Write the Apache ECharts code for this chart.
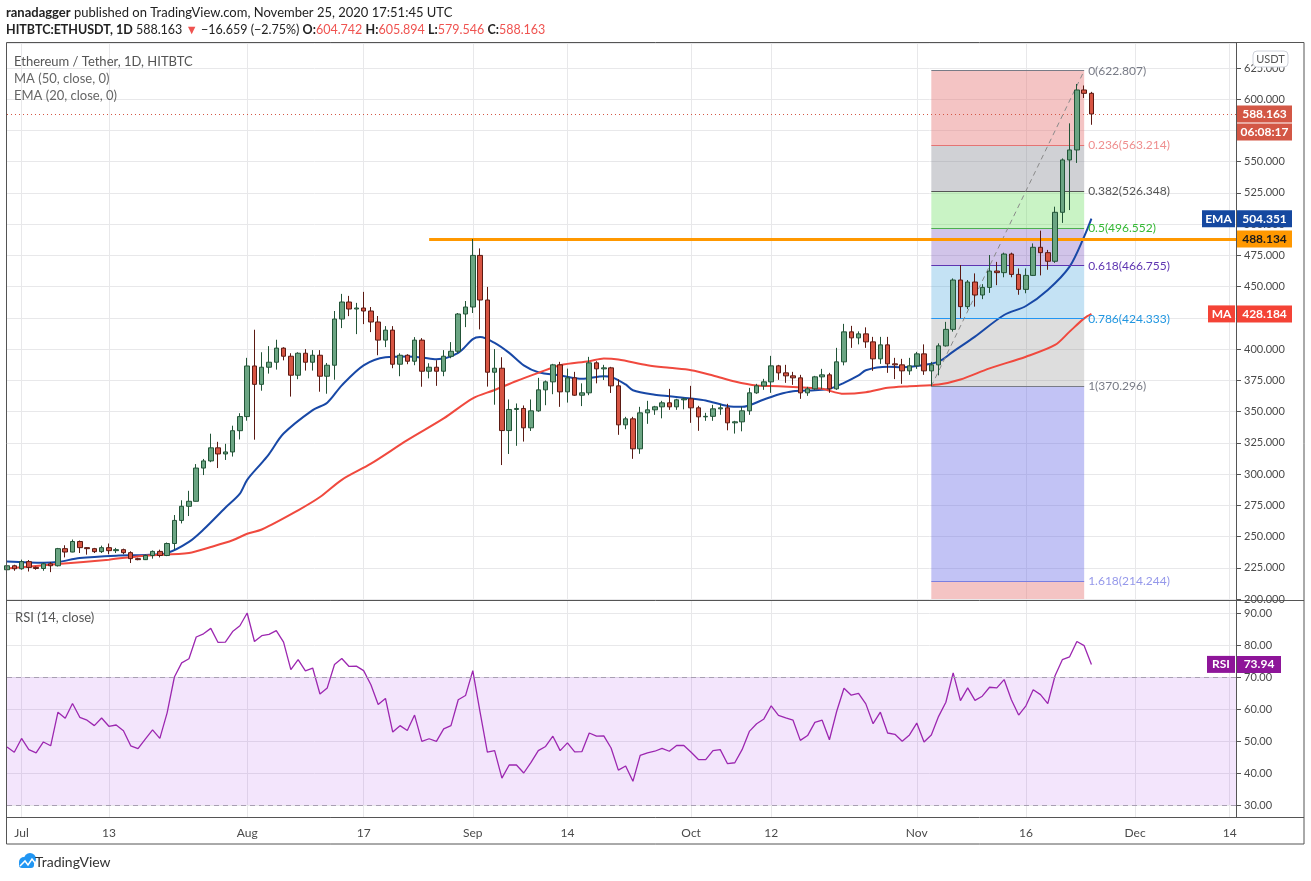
<!DOCTYPE html>
<html>
<head>
<meta charset="utf-8">
<script src="https://cdn.jsdelivr.net/npm/echarts@6/dist/echarts.min.js"></script>
<style>
html, body { margin: 0; padding: 0; background: #fff; }
#chart-container { width: 1311px; height: 881px; }
</style>
</head>
<body>
<div id="chart-container"></div>
<script>
// ETH/USDT daily, 29 Jun - 25 Nov 2020
var FONT = 'Lato, "Noto Sans", sans-serif';

// day categories, 29 Jun 2020 .. 15 Dec 2020
var categories = [];
for (var i = 0; i < 170; i++) {
  categories.push(new Date(Date.UTC(2020, 5, 29 + i)).toISOString().slice(0, 10));
}
var tickDates = ['2020-07-01', '2020-07-13', '2020-08-01', '2020-08-17', '2020-09-01', '2020-09-14',
  '2020-10-01', '2020-10-12', '2020-11-01', '2020-11-16', '2020-12-01', '2020-12-14'];
var tickTexts = ['Jul', '13', 'Aug', '17', 'Sep', '14', 'Oct', '12', 'Nov', '16', 'Dec', '14'];

// [open, high, low, close]
var candles = [
  [223.4, 229.6, 219.9, 226.6], [226.6, 227.4, 222.6, 224.2], [224.2, 231.5, 223.4, 229.9],
  [229.9, 231.2, 222.0, 225.3], [225.3, 226.0, 223.4, 224.4], [224.4, 229.0, 222.6, 228.2],
  [228.2, 229.6, 221.5, 226.6], [226.6, 240.9, 226.0, 240.3], [240.3, 243.0, 233.3, 237.6],
  [237.6, 247.6, 237.4, 246.0], [246.0, 246.8, 236.8, 241.1], [241.1, 241.4, 235.5, 240.3],
  [240.3, 240.9, 236.8, 237.9], [237.9, 242.7, 236.8, 241.1], [241.1, 244.4, 235.8, 238.7],
  [238.7, 240.9, 236.8, 239.5], [239.5, 240.3, 235.8, 237.1], [237.1, 238.2, 228.8, 232.3],
  [232.3, 233.0, 231.0, 231.5], [231.5, 235.6, 231.2, 234.8], [234.8, 238.9, 232.3, 238.1],
  [238.1, 239.5, 233.3, 234.8], [234.8, 245.2, 234.3, 244.4], [244.4, 267.2, 239.5, 262.9],
  [262.9, 279.0, 260.5, 274.2], [274.2, 286.6, 266.4, 278.2], [278.2, 308.0, 278.0, 304.8],
  [304.8, 312.1, 299.2, 310.5], [310.5, 332.3, 309.5, 321.0], [321.0, 325.8, 304.8, 316.1],
  [316.1, 324.2, 311.3, 317.7], [317.7, 338.7, 314.0, 334.7], [334.7, 348.7, 327.7, 346.0],
  [346.0, 393.0, 342.7, 386.5], [386.5, 415.5, 327.5, 371.8], [371.8, 397.5, 366.7, 385.5],
  [385.5, 402.4, 380.4, 389.5], [389.5, 407.5, 383.6, 400.8], [400.8, 401.5, 391.0, 394.3],
  [394.3, 396.7, 362.0, 379.1], [379.1, 397.5, 375.9, 396.7], [396.7, 400.0, 382.8, 389.5],
  [389.5, 399.2, 382.8, 395.1], [395.1, 399.2, 365.9, 378.3], [378.3, 388.9, 364.3, 387.1],
  [387.1, 430.5, 375.5, 424.1], [424.1, 444.2, 416.8, 437.7], [437.7, 442.6, 426.4, 432.1],
  [432.1, 437.0, 412.0, 432.9], [432.9, 445.8, 420.0, 430.5], [430.5, 433.7, 413.6, 421.7],
  [421.7, 426.5, 395.1, 407.2], [407.2, 418.4, 401.6, 415.2], [415.2, 418.4, 384.7, 387.9],
  [387.9, 396.7, 378.3, 395.1], [395.1, 395.9, 387.9, 390.3], [390.3, 409.6, 387.1, 407.2],
  [407.2, 408.8, 369.9, 382.3], [382.3, 388.7, 376.6, 385.5], [385.5, 391.1, 370.6, 382.3],
  [382.3, 399.2, 378.3, 394.3], [394.3, 405.6, 392.7, 398.3], [398.3, 428.9, 396.7, 428.1],
  [428.1, 438.5, 417.6, 433.7], [433.7, 488.1, 428.9, 475.0], [475.0, 480.6, 415.8, 439.3],
  [439.3, 449.8, 370.0, 381.5], [381.5, 400.0, 355.5, 384.7], [384.7, 393.5, 307.2, 334.8],
  [334.8, 359.7, 316.1, 351.7], [351.7, 356.5, 322.6, 352.5], [352.5, 354.9, 326.0, 337.0],
  [337.0, 359.7, 334.5, 350.6], [350.6, 377.0, 349.8, 367.4], [367.4, 374.9, 355.1, 373.8],
  [373.8, 388.2, 363.9, 387.4], [387.4, 389.8, 353.8, 365.8], [365.8, 384.4, 357.2, 377.0],
  [377.0, 381.8, 362.6, 363.1], [363.1, 372.6, 354.4, 365.0], [365.0, 393.8, 363.1, 389.0],
  [389.0, 390.3, 372.6, 384.2], [384.2, 387.4, 375.3, 385.0], [385.0, 385.8, 364.9, 370.6],
  [370.6, 375.8, 331.4, 339.4], [339.4, 345.8, 335.9, 344.2], [344.2, 345.8, 312.2, 320.2],
  [320.2, 353.8, 316.2, 349.0], [349.0, 358.6, 340.2, 351.4], [351.4, 354.6, 347.4, 353.8],
  [353.8, 358.6, 344.6, 357.0], [357.0, 368.2, 351.4, 353.8], [353.8, 360.2, 351.4, 359.4],
  [359.4, 361.0, 351.8, 360.2], [360.2, 370.6, 341.0, 353.0], [353.0, 354.6, 334.6, 345.8],
  [345.8, 349.0, 342.6, 346.2], [346.2, 355.4, 342.6, 352.2], [352.2, 356.2, 347.4, 353.0],
  [353.0, 356.2, 335.0, 341.0], [341.0, 342.6, 332.4, 341.8], [341.8, 353.8, 334.2, 350.6],
  [350.6, 369.0, 347.4, 365.0], [365.0, 372.2, 364.2, 370.6], [370.6, 376.2, 367.4, 373.8],
  [373.8, 394.6, 365.0, 386.6], [386.6, 387.4, 375.4, 381.0], [381.0, 387.4, 373.0, 378.6],
  [378.6, 381.8, 371.4, 377.0], [377.0, 379.4, 360.2, 365.0], [365.0, 369.8, 362.6, 368.2],
  [368.2, 378.6, 367.4, 377.8], [377.8, 384.2, 368.2, 379.4], [379.4, 381.0, 365.0, 368.2],
  [368.2, 401.0, 367.4, 389.8], [389.8, 420.2, 387.0, 413.8], [413.8, 418.6, 401.0, 409.0],
  [409.0, 414.2, 403.8, 412.2], [412.2, 417.4, 401.0, 405.8], [405.8, 409.8, 382.6, 392.2],
  [392.2, 409.8, 388.2, 403.4], [403.4, 409.8, 381.0, 388.2], [388.2, 393.0, 376.0, 387.4],
  [387.4, 392.2, 372.2, 382.6], [382.6, 393.0, 379.4, 386.6], [386.6, 397.8, 384.2, 396.2],
  [396.2, 403.8, 379.4, 382.6], [382.6, 389.8, 370.3, 387.4], [387.4, 404.6, 379.0, 402.6],
  [402.6, 421.8, 402.0, 415.8], [415.8, 456.6, 414.0, 455.3], [455.3, 467.3, 424.7, 434.0],
  [434.0, 455.3, 432.0, 453.7], [453.7, 460.6, 434.0, 443.3], [443.3, 452.0, 440.0, 449.4],
  [449.4, 475.3, 445.0, 462.5], [462.5, 469.8, 451.2, 461.2], [461.2, 477.2, 457.5, 476.1],
  [476.1, 477.2, 457.5, 459.8], [459.8, 464.6, 443.5, 447.8], [447.8, 464.6, 444.7, 459.0],
  [459.0, 484.6, 458.5, 481.5], [481.5, 494.8, 459.0, 477.2], [477.2, 479.4, 463.5, 470.3],
  [470.3, 514.0, 469.0, 509.5], [509.5, 552.6, 501.0, 551.4], [551.4, 580.7, 511.3, 559.4],
  [559.4, 612.2, 549.0, 607.4], [607.4, 611.0, 601.0, 604.7], [604.742, 605.894, 579.546, 588.163]
];

// [day index, value]
var emaPoints = [[0, 230.1], [5, 229.0], [7, 229.6], [10, 232.8], [15, 234.7], [19, 235.2], [22, 236.8],
  [25, 245.7], [27, 255.6], [30, 273.1], [32, 284.4], [33, 295.4], [35, 309.0], [36, 316.0], [38, 332.4],
  [42, 351.2], [44, 357.1], [46, 371.0], [49, 387.0], [52, 393.5], [55, 394.1], [57, 393.3], [59, 391.9],
  [62, 397.0], [64, 408.0], [65, 409.6], [67, 405.0], [69, 397.0], [71, 387.0], [73, 381.5], [76, 378.9],
  [79, 376.2], [82, 378.3], [83, 377.8], [85, 371.7], [86, 367.1], [89, 363.5], [91, 362.3], [94, 360.5],
  [96, 358.9], [99, 354.5], [101, 353.8], [104, 359.7], [106, 363.7], [108, 366.3], [111, 367.1],
  [113, 368.2], [115, 373.0], [117, 378.9], [118, 383.1], [121, 385.8], [123, 385.5], [125, 386.5],
  [128, 390.0], [130, 398.0], [133, 410.0], [137, 427.3], [140, 434.5], [143, 447.3], [146, 466.0],
  [148, 490.0], [149, 504.351]];
var maPoints = [[0, 224.5], [7, 228.0], [14, 231.5], [19, 234.7], [25, 236.8], [28, 241.6], [31, 247.0],
  [33, 252.2], [35, 255.6], [40, 271.0], [43, 281.6], [46, 295.4], [50, 308.3], [55, 327.1], [60, 344.5],
  [64, 360.6], [67, 367.3], [70, 374.5], [73, 381.0], [76, 387.1], [80, 390.3], [82, 392.5], [84, 391.7],
  [88, 387.1], [91, 385.0], [94, 383.1], [97, 378.9], [100, 374.1], [103, 370.9], [106, 370.3],
  [110, 369.0], [112, 368.2], [115, 364.2], [118, 365.5], [121, 369.0], [124, 370.3], [128, 371.7],
  [131, 375.7], [135, 384.6], [140, 393.9], [144, 403.3], [146, 414.0], [148, 424.6], [149, 428.184]];

var rsiValues = [48.1, 46.5, 50.8, 47.3, 46.3, 49.7, 48.5, 59.0, 57.1, 61.7,
  57.4, 56.5, 54.8, 57.2, 54.6, 55.0, 53.2, 48.5, 47.6, 50.6,
  53.5, 50.8, 58.8, 70.0, 74.4, 75.7, 82.5, 83.5, 85.2, 80.8,
  80.9, 84.2, 86.0, 90.0, 81.1, 82.9, 83.3, 84.5, 80.9, 72.3,
  75.4, 71.9, 72.8, 64.7, 66.6, 73.9, 75.8, 73.3, 73.4, 72.0,
  67.6, 61.4, 63.3, 52.8, 54.8, 53.3, 58.1, 49.9, 50.7, 49.9,
  53.8, 54.8, 62.9, 64.2, 72.0, 59.0, 46.5, 47.0, 38.4, 42.5,
  42.5, 40.0, 43.3, 47.0, 48.3, 51.5, 47.0, 49.4, 46.6, 46.7,
  52.5, 51.5, 51.6, 47.8, 40.9, 42.2, 37.4, 45.5, 46.3, 46.8,
  47.7, 46.8, 48.6, 48.6, 46.5, 44.2, 44.2, 47.0, 47.3, 42.9,
  43.2, 47.3, 53.0, 55.4, 56.9, 61.0, 58.0, 57.2, 56.5, 50.2,
  51.7, 55.8, 56.5, 50.4, 59.3, 66.5, 64.3, 64.9, 61.6, 55.4,
  59.0, 52.5, 52.1, 49.9, 51.9, 55.6, 49.7, 51.9, 57.7, 62.1,
  71.3, 62.6, 66.6, 62.7, 64.0, 66.8, 66.6, 69.2, 62.9, 58.1,
  61.0, 66.0, 64.5, 61.7, 70.4, 75.4, 76.3, 81.1, 79.8, 73.94];

// Fibonacci retracement drawn from the 3 Nov low to the 24 Nov high
var fibRatios = ['0', '0.236', '0.382', '0.5', '0.618', '0.786', '1', '1.618'];
var fibPrices = [622.807, 563.214, 526.348, 496.552, 466.755, 424.333, 370.296, 214.244];
var fibStart = '2020-11-03';
var fibEnd = '2020-11-24';
var resistanceStart = '2020-08-26';
var resistance = 488.134;
var lastPrice = 588.163;
var lastEma = 504.351;
var lastMa = 428.184;
var lastRsi = 73.94;

var fibBandColors = ['rgba(229,115,115,0.42)', 'rgba(120,123,134,0.35)', 'rgba(100,220,90,0.35)',
  'rgba(103,58,183,0.30)', 'rgba(60,160,220,0.30)', 'rgba(120,120,120,0.25)',
  'rgba(103,106,230,0.40)', 'rgba(229,115,115,0.42)'];
var fibLineColors = ['#787b86', '#e57373', '#555555', '#4caf50', '#5e35b1', '#2196f3', '#787b86', '#7b7fe0'];
var fibTextColors = ['#787b86', '#ef8e8e', '#555555', '#33b833', '#5e35b1', '#2196e0', '#787b86', '#9598ea'];

var dom = document.getElementById('chart-container');
var myChart = echarts.init(dom, null, { renderer: 'canvas' });

var isTick = function (index, value) {
  return tickDates.indexOf(value) >= 0;
};

var fibStartIdx = categories.indexOf(fibStart);
var fibEndIdx = categories.indexOf(fibEnd);

var fibAreas = [];
var fibLines = [];
for (var k = 0; k < fibPrices.length; k++) {
  var lower = k + 1 < fibPrices.length ? fibPrices[k + 1] : 200;
  fibAreas.push([
    { coord: [fibStartIdx, fibPrices[k]], itemStyle: { color: fibBandColors[k] } },
    { coord: [fibEndIdx, lower] }
  ]);
  fibLines.push([
    {
      coord: [fibStartIdx, fibPrices[k]],
      lineStyle: { color: fibLineColors[k], width: 1, type: 'solid' },
      label: {
        show: true, position: 'end', distance: 4,
        formatter: fibRatios[k] + '(' + fibPrices[k].toFixed(3) + ')',
        color: fibTextColors[k], fontSize: 12, fontFamily: FONT
      }
    },
    { coord: [fibEndIdx, fibPrices[k]] }
  ]);
}
// dashed trend line of the retracement
fibLines.push([
  { coord: [fibStartIdx, fibPrices[6]], lineStyle: { color: '#8a8a8a', width: 1, type: [5, 4] }, label: { show: false } },
  { coord: [fibEndIdx, fibPrices[0]] }
]);

var gridLineColor = '#e8e8ea';

var option = {
  animation: false,
  backgroundColor: '#ffffff',
  textStyle: { fontFamily: FONT },
  grid: [
    { left: 7, right: 74, top: 43, height: 556, outerBoundsMode: 'none' },
    { left: 7, right: 74, top: 613, height: 192, outerBoundsMode: 'none' },
    { left: 7, right: 74, top: 600, height: 217, outerBoundsMode: 'none' }
  ],
  xAxis: [
    {
      type: 'category', gridIndex: 0, data: categories, boundaryGap: false,
      axisLine: { show: false }, axisTick: { show: false }, axisLabel: { show: false },
      splitLine: { show: true, interval: isTick, lineStyle: { color: gridLineColor } }
    },
    {
      type: 'category', gridIndex: 1, data: categories, boundaryGap: false,
      axisLine: { show: false }, axisTick: { show: false }, axisLabel: { show: false },
      splitLine: { show: false }
    },
    {
      type: 'category', gridIndex: 2, data: categories, boundaryGap: false, position: 'bottom',
      axisLine: { show: false }, axisTick: { show: false },
      axisLabel: {
        show: true, interval: isTick, color: '#4a4a4a', fontSize: 12, margin: 10,
        formatter: function (value) {
          var j = tickDates.indexOf(value);
          return j >= 0 ? tickTexts[j] : '';
        }
      },
      splitLine: { show: true, interval: isTick, lineStyle: { color: gridLineColor } }
    }
  ],
  yAxis: [
    {
      type: 'value', gridIndex: 0, position: 'right', min: 200, max: 645.0, interval: 25,
      axisLine: { show: false },
      axisTick: { show: true, length: 4, lineStyle: { color: '#555' } },
      axisLabel: {
        color: '#4a4a4a', fontSize: 11, margin: 7, showMaxLabel: false,
        formatter: function (v) { return (v % 25 === 0 && v <= 625) ? v.toFixed(3) : ''; }
      },
      splitLine: { show: true, lineStyle: { color: gridLineColor } }
    },
    {
      type: 'value', gridIndex: 1, position: 'right', min: 30, max: 90, interval: 10,
      axisLine: { show: false },
      axisTick: { show: true, length: 4, lineStyle: { color: '#555' } },
      axisLabel: { color: '#4a4a4a', fontSize: 11, margin: 7, formatter: function (v) { return v.toFixed(2); } },
      splitLine: { show: true, lineStyle: { color: gridLineColor } }
    },
    { type: 'value', gridIndex: 2, show: false, min: 0, max: 1, splitLine: { show: false } }
  ],
  series: [
    {
      name: 'Fib', type: 'line', xAxisIndex: 0, yAxisIndex: 0, data: [], z: 1,
      markArea: { silent: true, data: fibAreas },
      markLine: { silent: true, symbol: ['none', 'none'], data: fibLines }
    },
    {
      name: 'ETHUSDT', type: 'candlestick', xAxisIndex: 0, yAxisIndex: 0, z: 5, barWidth: 5,
      data: candles.map(function (c) { return [c[0], c[3], c[2], c[1]]; }),
      itemStyle: {
        color: '#6ba583', color0: '#d75442',
        borderColor: '#225437', borderColor0: '#5b1a13', borderWidth: 1
      },
      markLine: {
        silent: true, symbol: ['none', 'none'], label: { show: false },
        data: [
          [
            { coord: [categories.indexOf(resistanceStart), resistance], lineStyle: { color: '#ff9800', width: 3, type: 'solid' } },
            { coord: [categories.length - 1, resistance] }
          ],
          { yAxis: lastPrice, lineStyle: { color: '#d35745', width: 1, type: [1, 3] } }
        ]
      }
    },
    {
      name: 'EMA', type: 'line', xAxisIndex: 0, yAxisIndex: 0, z: 4, data: emaPoints,
      showSymbol: false, smooth: 0.3, lineStyle: { color: '#1848a6', width: 2 }
    },
    {
      name: 'MA', type: 'line', xAxisIndex: 0, yAxisIndex: 0, z: 4, data: maPoints,
      showSymbol: false, smooth: 0.3, lineStyle: { color: '#f0493e', width: 2 }
    },
    {
      name: 'RSI', type: 'line', xAxisIndex: 1, yAxisIndex: 1, data: rsiValues,
      showSymbol: false, lineStyle: { color: '#9c27b0', width: 1.3 },
      markArea: {
        silent: true,
        data: [[{ yAxis: 70, itemStyle: { color: 'rgba(155,38,230,0.12)' } }, { yAxis: 30 }]]
      },
      markLine: {
        silent: true, symbol: ['none', 'none'], label: { show: false },
        lineStyle: { color: '#a89fb2', type: [5, 4], width: 1 },
        data: [{ yAxis: 70 }, { yAxis: 30 }]
      }
    },
    { name: 'frame', type: 'line', xAxisIndex: 2, yAxisIndex: 2, data: [] }
  ]
};

if (option && typeof option === 'object') {
  myChart.setOption(option);
}

// value tags on the price scales, frame and header
function tag(x, yc, w, text, fill, textColor) {
  return {
    type: 'group', z: 100, children: [
      { type: 'rect', z: 100, shape: { x: x, y: yc - 8.5, width: w, height: 17 }, style: { fill: fill } },
      {
        type: 'text', z: 101, x: x + w / 2, y: yc,
        style: { text: text, fill: textColor || '#fff', font: 'bold 12px ' + FONT, align: 'center', verticalAlign: 'middle' }
      }
    ]
  };
}
function label(x, y, text, font, color) {
  return { type: 'text', x: x, y: y, z: 100, style: { text: text, font: font, fill: color, align: 'left', verticalAlign: 'middle' } };
}
var py = function (v) { return myChart.convertToPixel({ yAxisIndex: 0 }, v); };
var ry = function (v) { return myChart.convertToPixel({ yAxisIndex: 1 }, v); };
var axisX = 1237;

var graphics = [
  { type: 'rect', z: 50, shape: { x: 6.5, y: 42.5, width: 1297.5, height: 801.5 }, style: { fill: 'none', stroke: '#555', lineWidth: 1 } },
  { type: 'line', z: 50, shape: { x1: 6.5, y1: 600.5, x2: 1304, y2: 600.5 }, style: { stroke: '#555', lineWidth: 1 } },
  { type: 'line', z: 50, shape: { x1: 6.5, y1: 817.5, x2: 1304, y2: 817.5 }, style: { stroke: '#555', lineWidth: 1 } },
  { type: 'line', z: 50, shape: { x1: axisX - 0.5, y1: 42.5, x2: axisX - 0.5, y2: 817.5 }, style: { stroke: '#555', lineWidth: 1 } },
  {
    type: 'text', x: 6, y: 13, z: 100,
    style: {
      text: '{b|ranadagger} published on TradingView.com, November 25, 2020 17:51:45 UTC',
      font: '13px ' + FONT, fill: '#222', align: 'left', verticalAlign: 'middle',
      rich: { b: { fontWeight: 'bold', fontSize: 13, fontFamily: FONT, fill: '#222' } }
    }
  },
  {
    type: 'text', x: 6, y: 30, z: 100,
    style: {
      text: '{b|HITBTC:ETHUSDT, 1D} 588.163 {r|▼} −16.659 (−2.75%) {b|O:}{r|604.742} {b|H:}{r|605.894} {b|L:}{r|579.546} {b|C:}{r|588.163}',
      font: '12.5px ' + FONT, fill: '#222', align: 'left', verticalAlign: 'middle',
      rich: {
        b: { fontWeight: 'bold', fontSize: 12.5, fontFamily: FONT, fill: '#222' },
        r: { fontSize: 12.5, fontFamily: FONT, fill: '#ef5350' }
      }
    }
  },
  label(14, 62, 'Ethereum / Tether, 1D, HITBTC', '13px ' + FONT, '#555'),
  label(14, 79, 'MA (50, close, 0)', '13px ' + FONT, '#666'),
  label(14, 96, 'EMA (20, close, 0)', '13px ' + FONT, '#666'),
  label(15, 618, 'RSI (14, close)', '13px ' + FONT, '#555'),
  { type: 'rect', z: 60, shape: { x: 1253, y: 51, width: 35, height: 16, r: 4 }, style: { fill: '#fff', stroke: '#cfd2da' } },
  { type: 'text', z: 61, x: 1270.5, y: 59, style: { text: 'USDT', font: '11px ' + FONT, fill: '#555', align: 'center', verticalAlign: 'middle' } },
  tag(axisX, py(lastPrice), 55, lastPrice.toFixed(3), '#d35745'),
  tag(axisX, py(lastPrice) + 18, 55, '06:08:17', '#d35745'),
  tag(1202, py(lastEma), 33, 'EMA', '#1548a0'),
  tag(axisX, py(lastEma), 55, lastEma.toFixed(3), '#1548a0'),
  tag(axisX, py(resistance), 55, resistance.toFixed(3), '#ff9800', '#1a1a1a'),
  tag(1208, py(lastMa), 27, 'MA', '#f44336'),
  tag(axisX, py(lastMa), 55, lastMa.toFixed(3), '#f44336'),
  tag(1207, ry(lastRsi), 28, 'RSI', '#8e1599'),
  tag(axisX, ry(lastRsi), 44, lastRsi.toFixed(2), '#8e1599'),
  // TradingView logo
  { type: 'circle', shape: { cx: 24, cy: 862, r: 5 }, style: { fill: '#2196f3' } },
  { type: 'circle', shape: { cx: 30, cy: 859, r: 6 }, style: { fill: '#2196f3' } },
  { type: 'rect', shape: { x: 19, y: 861, width: 15, height: 7, r: 3 }, style: { fill: '#2196f3' } },
  { type: 'polyline', shape: { points: [[20, 866], [25, 861], [28, 865], [32, 859], [35, 863]] }, style: { stroke: '#fff', lineWidth: 1.5, fill: null } },
  label(35, 862, 'TradingView', '14px ' + FONT, '#333')
];
myChart.setOption({ graphic: graphics });

window.addEventListener('resize', myChart.resize);
</script>
</body>
</html>
